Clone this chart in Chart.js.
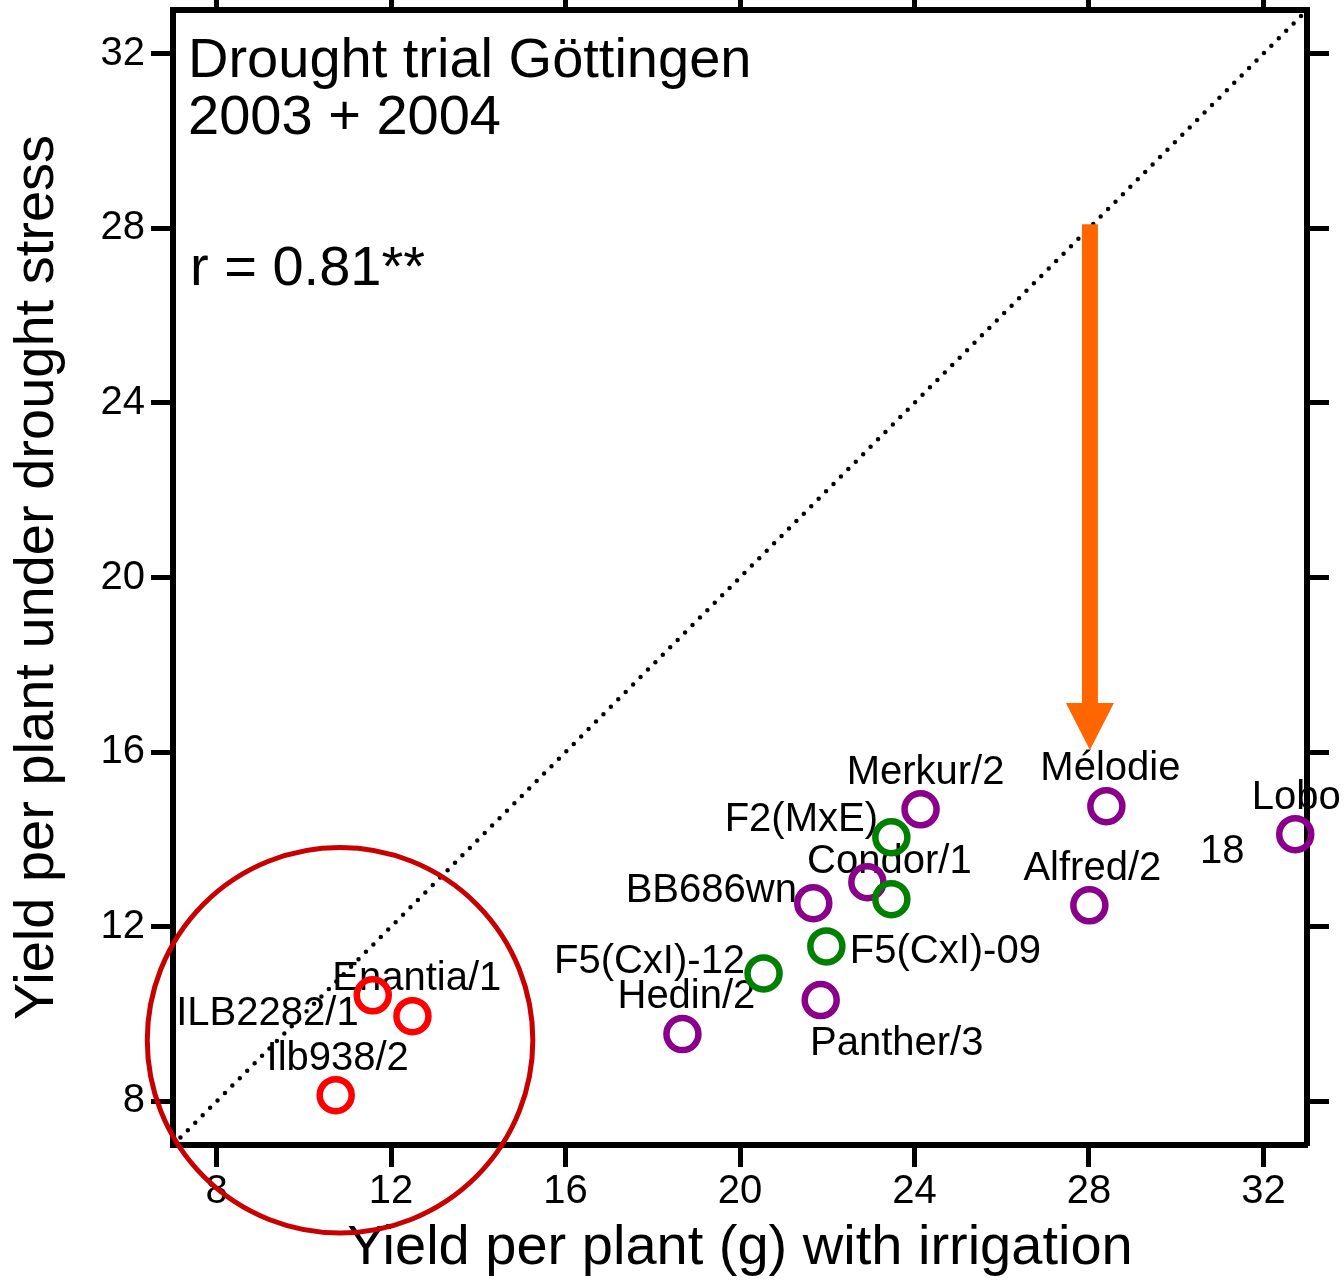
<!DOCTYPE html>
<html>
<head>
<meta charset="utf-8">
<script src="https://cdn.jsdelivr.net/npm/chart.js@4.4.1/dist/chart.umd.min.js"></script>
<style>
    html, body { margin: 0; padding: 0; background: #fff; }
    #wrap { width: 1344px; height: 1283px; }
</style>
</head>
<body>
<div id="wrap"><canvas id="yieldChart"></canvas></div>
<script>
// Genebank accessions
const accNames = ['Enantia/1', 'ILB2282/1', 'Ilb938/2'];
const accIrrigated = [11.58, 12.49, 10.73];
const accDrought = [10.43, 9.95, 8.14];

// Breeding lines
const lineNames = ['F2(MxE)', '', 'F5(CxI)-09', 'F5(CxI)-12'];
const lineIrrigated = [23.47, 23.47, 21.98, 20.54];
const lineDrought = [14.05, 12.63, 11.55, 10.93];

// Cultivars
const cvNames = ['Merkur/2', 'Mélodie', 'Lobo', 'Alfred/2', 'Condor/1', 'BB686wn', 'Panther/3', 'Hedin/2'];
const cvIrrigated = [24.14, 28.40, 32.73, 28.01, 22.92, 21.68, 21.85, 18.68];
const cvDrought = [14.69, 14.76, 14.12, 12.49, 13.02, 12.54, 10.32, 9.54];

const axisTicks = [8, 12, 16, 20, 24, 28, 32];
const axisMin = 7;
const axisMax = 33;

// drop from irrigation to drought for Mélodie
const arrowFrom = [28, 28];
const arrowTo = [28, 16];
// low yielding group
const ringCenter = [10.83, 9.40];
const ringRadius = 4.42;

const colors = {
    acc: '#ff0000',
    line: '#008000',
    cv: '#8b008b',
    ring: '#c80000',
    arrow: '#ff6600'
};
const FONT = '"Liberation Sans", Arial, sans-serif';

// label offsets in px from the marker centre (text centre x, baseline y)
const accLabelPos = [[44, -5], [-145, 9], [2, -25]];
const lineLabelPos = [[-90, -6], [0, 0], [119, 17], [-114, 0]];
const cvLabelPos = [[5, -25], [4, -26], [1, -25], [3, -25], [22, -9], [-102, -1], [76, 55], [4, -26]];

function toPoints(xs, ys) {
    return xs.map((x, i) => ({ x: x, y: ys[i] }));
}

function ringDataset(label, xs, ys, color, names, offsets) {
    return {
        label: label,
        data: toPoints(xs, ys),
        names: names,
        labelPos: offsets,
        borderColor: color,
        backgroundColor: 'rgba(0,0,0,0)',
        pointRadius: 16,
        pointHoverRadius: 16,
        borderWidth: 6.5,
        pointBorderWidth: 6.5,
        showLine: false,
        clip: false,
        order: 1
    };
}

const annotations = {
    id: 'annotations',
    beforeDatasetsDraw(chart) {
        const ctx = chart.ctx;
        const area = chart.chartArea;
        ctx.save();
        ctx.fillStyle = '#000';
        ctx.textAlign = 'left';
        ctx.textBaseline = 'alphabetic';
        ctx.font = '56px ' + FONT;
        ctx.fillText('Drought trial Göttingen', area.left + 15, area.top + 67);
        ctx.fillText('2003 + 2004', area.left + 15, area.top + 124);
        ctx.fillText('r = 0.81**', area.left + 17, area.top + 275);

        // point names
        ctx.font = '40px ' + FONT;
        ctx.textAlign = 'center';
        chart.data.datasets.forEach((ds, di) => {
            if (!ds.names) return;
            const meta = chart.getDatasetMeta(di);
            meta.data.forEach((pt, i) => {
                const name = ds.names[i];
                if (!name) return;
                const off = ds.labelPos[i];
                ctx.fillText(name, pt.x + off[0], pt.y + off[1]);
                if (name === 'Lobo') {
                    ctx.fillText('18', pt.x - 73, pt.y + 29);
                }
            });
        });
        ctx.restore();
    },
    afterDatasetsDraw(chart) {
        const ctx = chart.ctx;
        const xs = chart.scales.x;
        const ys = chart.scales.y;
        const x0 = xs.getPixelForValue(arrowFrom[0]) + 1;
        const y0 = ys.getPixelForValue(arrowFrom[1]) - 4;
        const y1 = ys.getPixelForValue(arrowTo[1]) - 2;
        const shaft = 16, headW = 48, headH = 47;
        ctx.save();
        ctx.fillStyle = colors.arrow;
        ctx.fillRect(x0 - shaft / 2, y0, shaft, y1 - headH - y0 + 1);
        ctx.beginPath();
        ctx.moveTo(x0 - headW / 2, y1 - headH);
        ctx.lineTo(x0 + headW / 2, y1 - headH);
        ctx.lineTo(x0, y1);
        ctx.closePath();
        ctx.fill();
        ctx.restore();
    },
    afterDraw(chart) {
        const ctx = chart.ctx;
        const xs = chart.scales.x;
        const ys = chart.scales.y;
        const cx = xs.getPixelForValue(ringCenter[0]);
        const cy = ys.getPixelForValue(ringCenter[1]);
        const r = xs.getPixelForValue(ringCenter[0] + ringRadius) - cx;
        ctx.save();
        ctx.strokeStyle = colors.ring;
        ctx.lineWidth = 5;
        ctx.beginPath();
        ctx.arc(cx, cy, r, 0, Math.PI * 2);
        ctx.stroke();
        ctx.restore();
    }
};

function axisGrid(len) {
    return {
        drawOnChartArea: false,
        drawTicks: true,
        tickLength: len,
        tickWidth: 5,
        tickColor: '#000'
    };
}

const fixedTicks = scale => { scale.ticks = axisTicks.map(v => ({ value: v })); };

// pin the box sizes so the plot frame sits where it should
function fitBox(size) {
    return scale => {
        if (scale.isHorizontal()) scale.height = size;
        else scale.width = size;
        scale.paddingTop = 0;
        scale.paddingBottom = 0;
        scale.paddingLeft = 0;
        scale.paddingRight = 0;
    };
}

new Chart(document.getElementById('yieldChart'), {
    type: 'scatter',
    data: {
        datasets: [
            ringDataset('Accessions', accIrrigated, accDrought, colors.acc, accNames, accLabelPos),
            ringDataset('Breeding lines', lineIrrigated, lineDrought, colors.line, lineNames, lineLabelPos),
            ringDataset('Cultivars', cvIrrigated, cvDrought, colors.cv, cvNames, cvLabelPos),
            {
                label: '1:1',
                type: 'line',
                data: [{ x: axisMin, y: axisMin }, { x: axisMax, y: axisMax }],
                borderColor: '#000',
                borderWidth: 4.5,
                borderDash: [0, 10.5],
                borderCapStyle: 'round',
                pointRadius: 0,
                fill: false,
                order: 5
            }
        ]
    },
    options: {
        responsive: true,
        maintainAspectRatio: false,
        animation: false,
        layout: { padding: 0, autoPadding: false },
        plugins: {
            legend: { display: false },
            tooltip: { enabled: false }
        },
        scales: {
            x: {
                type: 'linear',
                position: 'bottom',
                min: axisMin,
                max: axisMax,
                afterBuildTicks: fixedTicks,
                afterFit: fitBox(138),
                grid: axisGrid(22),
                border: { display: true, width: 6, color: '#000' },
                ticks: { color: '#000', font: { family: FONT, size: 40 }, padding: 1, maxRotation: 0 },
                title: {
                    display: true,
                    text: 'Yield per plant (g) with irrigation',
                    color: '#000',
                    font: { family: FONT, size: 56 },
                    padding: { top: 0, bottom: 1 }
                }
            },
            x2: {
                type: 'linear',
                axis: 'x',
                position: 'top',
                min: axisMin,
                max: axisMax,
                afterBuildTicks: fixedTicks,
                afterFit: fitBox(10),
                grid: axisGrid(12),
                border: { display: true, width: 6, color: '#000' },
                ticks: { display: false }
            },
            y: {
                type: 'linear',
                position: 'left',
                min: axisMin,
                max: axisMax,
                afterBuildTicks: fixedTicks,
                afterFit: fitBox(173),
                grid: axisGrid(22),
                border: { display: true, width: 6, color: '#000' },
                ticks: { color: '#000', font: { family: FONT, size: 40 }, padding: 6 },
                title: {
                    display: true,
                    text: 'Yield per plant under drought stress',
                    color: '#000',
                    font: { family: FONT, size: 56 },
                    padding: { top: 4, bottom: 0 }
                }
            },
            y2: {
                type: 'linear',
                axis: 'y',
                position: 'right',
                min: axisMin,
                max: axisMax,
                afterBuildTicks: fixedTicks,
                afterFit: fitBox(37),
                grid: axisGrid(22),
                border: { display: true, width: 6, color: '#000' },
                ticks: { display: false }
            }
        }
    },
    plugins: [annotations]
});
</script>
</body>
</html>
